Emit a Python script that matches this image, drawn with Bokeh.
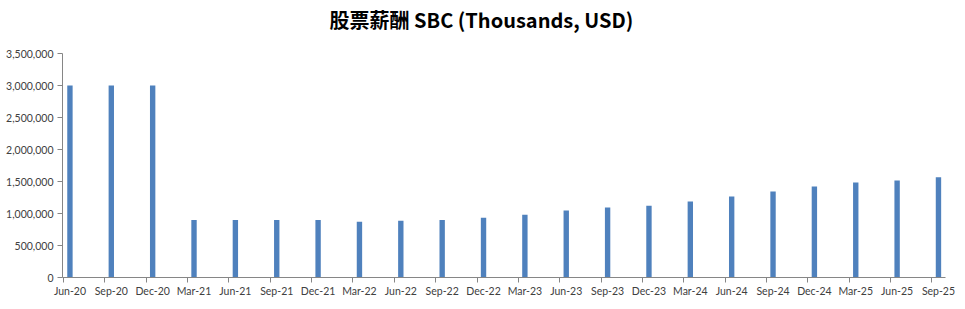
from bokeh.plotting import figure
from bokeh.models import FixedTicker, NumeralTickFormatter, Range1d, ColumnDataSource, Title
from bokeh.embed import file_html
from bokeh.resources import INLINE

quarters = ["Jun-20", "Sep-20", "Dec-20", "Mar-21", "Jun-21", "Sep-21", "Dec-21",
            "Mar-22", "Jun-22", "Sep-22", "Dec-22", "Mar-23", "Jun-23", "Sep-23",
            "Dec-23", "Mar-24", "Jun-24", "Sep-24", "Dec-24", "Mar-25", "Jun-25", "Sep-25"]
sbc = [3000000, 3000000, 3000000, 900000, 900000, 900000, 900000,
       873000, 888000, 900000, 935000, 982000, 1045000, 1092000,
       1123000, 1186000, 1264000, 1342000, 1421000, 1483000, 1515000, 1567000]
y_ticks = [0, 500000, 1000000, 1500000, 2000000, 2500000, 3000000, 3500000]

xs = list(range(len(quarters)))
src = ColumnDataSource(dict(x=xs, top=sbc))

p = figure(width=965, height=309, output_backend="svg", toolbar_location=None,
           x_range=Range1d(-0.18, 21.17), y_range=Range1d(0, 3500000))
p.min_border_left = 62
p.min_border_right = 20
p.min_border_top = 53
p.min_border_bottom = 32
p.outline_line_color = None
p.background_fill_color = "white"
p.border_fill_color = "white"

p.vbar(x="x", top="top", width=0.13, source=src, fill_color="#4F81BD", line_color=None)

p.title.text = "股票薪酬 SBC (Thousands, USD)"
p.title.text_font = "Noto Sans CJK SC"
p.title.text_font_size = "20px"
p.title.text_font_style = "bold"
p.title.text_color = "#000000"
p.title.align = "left"
p.title.offset = 267
p.title.standoff = 0

# empty spacer between the title and the plot area
p.add_layout(Title(text=" ", text_font_size="10px", standoff=7), "above")

p.xgrid.visible = False
p.ygrid.visible = False

xa = p.xaxis[0]
xa.ticker = FixedTicker(ticks=xs, minor_ticks=[i - 0.157 for i in xs])
xa.major_label_overrides = {i: q for i, q in zip(xs, quarters)}
xa.major_tick_out = 0
xa.major_tick_in = 0
xa.minor_tick_out = 5
xa.minor_tick_in = 0
xa.minor_tick_line_color = "#868686"
xa.axis_line_color = "#868686"
xa.major_label_standoff = 2
xa.major_label_text_font = "Lato"
xa.major_label_text_font_size = "10.5px"
xa.major_label_text_color = "#404040"

ya = p.yaxis[0]
ya.ticker = FixedTicker(ticks=y_ticks)
ya.formatter = NumeralTickFormatter(format="0,0")
ya.major_tick_out = 5
ya.major_tick_in = 0
ya.minor_tick_line_color = None
ya.major_tick_line_color = "#868686"
ya.axis_line_color = "#868686"
ya.major_label_standoff = 4
ya.major_label_text_font = "Lato"
ya.major_label_text_font_size = "10.5px"
ya.major_label_text_color = "#404040"

open("out.html", "w").write(file_html(p, INLINE))
